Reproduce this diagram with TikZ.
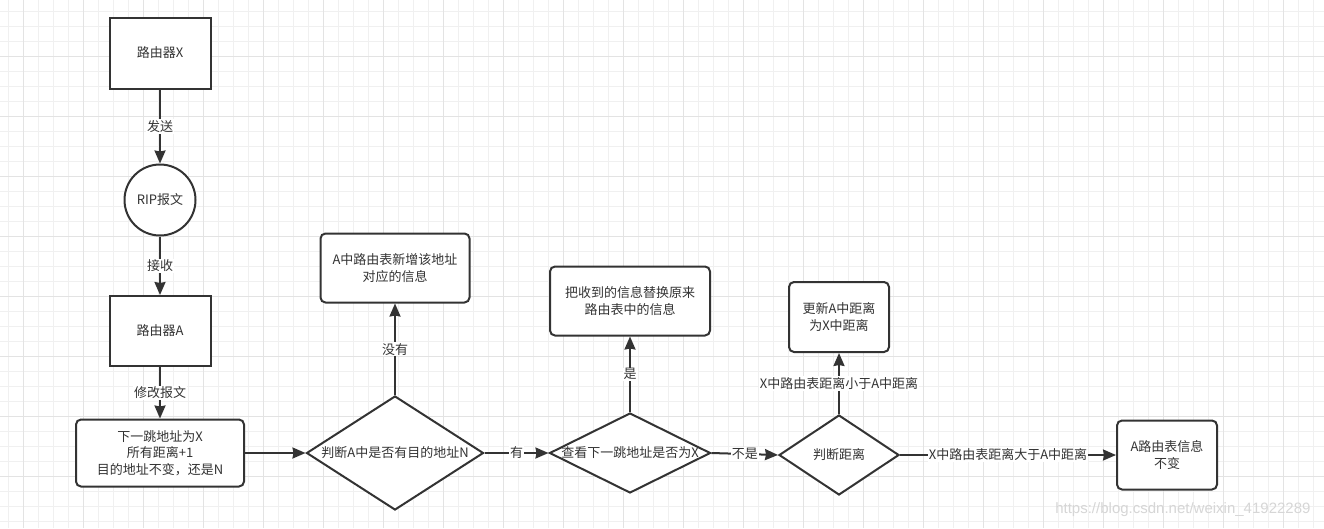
\documentclass[tikz,border=0pt]{standalone}
\usepackage{fontspec}
\setmainfont{Noto Sans CJK SC}
\newfontfamily\wmfont{Liberation Sans}
\usepackage{tikz}
\usetikzlibrary{positioning,shapes.geometric,arrows.meta}
\definecolor{ink}     {HTML}{333333}
\definecolor{gridlo}  {HTML}{F0F0F0}
\definecolor{gridhi}  {HTML}{E3E3E3}
\definecolor{wmark}   {HTML}{D6D6D6}
\tikzset{
  every node/.style={font=\fontsize{13pt}{16.5pt}\selectfont, text=ink},
  % --- nodes
  box/.style   = {draw=ink, line width=2pt, fill=white, align=center,
                  inner sep=0pt, minimum width=101pt, minimum height=71pt},
  rbox/.style  = {box, rounded corners=5pt},
  disc/.style  = {circle, draw=ink, line width=2pt, fill=white,
                  minimum size=71pt, inner sep=0pt},
  chk/.style   = {diamond, draw=ink, line width=2pt, fill=white, inner sep=0pt},
  % --- edges
  e/.style     = {-{Stealth[length=13pt,width=11pt,inset=1pt]}, line width=2pt, draw=ink},
  elabel/.style= {fill=white, inner sep=1pt},
}
\begin{document}
\begin{tikzpicture}[x=1pt,y=-1pt]
  \useasboundingbox (0,0) rectangle (1324,528);
  \fill[white] (0,0) rectangle (1324,528);

  % background grid
  \foreach \x in {8.33,23.33,...,1324} \draw[gridlo,line width=1pt] (\x,0) -- (\x,528);
  \foreach \y in {11.67,26.67,...,528} \draw[gridlo,line width=1pt] (0,\y) -- (1324,\y);
  \foreach \x in {23.33,83.33,...,1324} \draw[gridhi,line width=1pt] (\x,0) -- (\x,528);
  \foreach \y in {56.67,116.67,...,528} \draw[gridhi,line width=1pt] (0,\y) -- (1324,\y);

  \node[box] (rx)  at (160,53)  {路由器X};
  \node[disc] (rip) at (160,200) {RIP报文};
  \node[box, minimum height=70pt] (ra) at (160,331) {路由器A};
  \node[rbox, minimum width=168pt, minimum height=67pt] (mod) at (160,453)
    {下一跳地址为X\\所有距离+1\\目的地址不变，还是N};

  \node[chk, aspect=1.55, minimum width=177pt, minimum height=114pt] (hasn) at (395,453)
    {判断A中是否有目的地址N};
  \node[rbox, minimum width=149pt, minimum height=69pt] (add) at (395,268)
    {A中路由表新增该地址\\对应的信息};

  \node[chk, aspect=2, inner xsep=-3pt, minimum width=161pt, minimum height=80pt] (hopx) at (630,453)
    {查看下一跳地址是否为X};
  \node[rbox, minimum width=160pt, minimum height=69pt] (repl) at (630,301)
    {把收到的信息替换原来\\路由表中的信息};

  \node[chk, minimum width=120pt, minimum height=80pt] (dist) at (839,455) {判断距离};
  \node[rbox, minimum width=100pt, minimum height=70pt] (upd) at (839,317)
    {更新A中距离\\为X中距离};
  \node[rbox, minimum width=100pt, minimum height=69pt] (keep) at (1167,455)
    {A路由表信息\\不变};

  \draw[e] (rx) -- node[elabel] {发送} (rip);
  \draw[e] (rip) -- node[elabel] {接收} (ra);
  \draw[e] (ra) -- node[elabel] {修改报文} (mod);
  \draw[e] (mod) -- (hasn);
  \draw[e] (hasn) -- node[elabel] {没有} (add);
  \draw[e] (hasn) -- node[elabel] {有} (hopx);
  \draw[e] (hopx) -- node[elabel] {是} (repl);
  \draw[e] (hopx.east) -- node[elabel] {不是} (dist.west);
  \draw[e] (dist) -- node[elabel] {X中路由表距离小于A中距离} (upd);
  \draw[e] (dist) -- node[elabel] {X中路由表距离大于A中距离} (keep);

  \node[anchor=east, font=\wmfont\fontsize{15pt}{15pt}\selectfont, text=wmark] (wm) at (1314,510)
    {https://blog.csdn.net/weixin\_41922289};
\end{tikzpicture}
\end{document}
